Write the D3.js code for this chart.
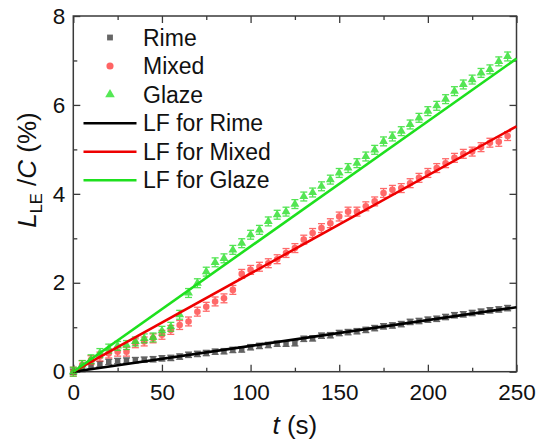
<!DOCTYPE html>
<html>
<head>
<meta charset="utf-8">
<script src="https://cdn.jsdelivr.net/npm/d3@7"></script>
<style>
  html, body { margin: 0; padding: 0; background: #fff; }
  svg { display: block; font-family: "Liberation Sans", Arial, sans-serif; }
</style>
</head>
<body>
<svg id="chart" width="537" height="443"></svg>
<script>
// Measurement times (s)
const times = [0, 5, 10, 15, 20, 25, 30, 35, 40, 45, 50, 55, 60, 65, 70, 75, 80, 85, 90, 95,
  100, 105, 110, 115, 120, 125, 130, 135, 140, 145, 150, 155, 160, 165, 170, 175, 180, 185, 190, 195,
  200, 205, 210, 215, 220, 225, 230, 235, 240, 245];

// L_LE / C (%) for each ice type
const rime = [0.00, 0.06, 0.13, 0.17, 0.22, 0.24, 0.25, 0.26, 0.27, 0.28, 0.30, 0.31, 0.34, 0.38, 0.40, 0.42, 0.45, 0.46, 0.49, 0.50,
  0.55, 0.58, 0.60, 0.63, 0.63, 0.64, 0.74, 0.75, 0.81, 0.82, 0.87, 0.89, 0.91, 0.94, 0.98, 1.02, 1.04, 1.07, 1.12, 1.14,
  1.17, 1.19, 1.23, 1.27, 1.29, 1.32, 1.35, 1.38, 1.40, 1.43];
const mixed = [0.00, 0.15, 0.26, 0.34, 0.41, 0.45, 0.45, 0.64, 0.68, 0.75, 0.83, 0.94, 1.05, 1.13, 1.35, 1.46, 1.58, 1.65, 1.84, 2.20,
  2.29, 2.36, 2.44, 2.53, 2.67, 2.78, 2.97, 3.12, 3.23, 3.34, 3.49, 3.60, 3.60, 3.72, 3.83, 4.02, 4.09, 4.13, 4.24, 4.36,
  4.47, 4.58, 4.69, 4.81, 4.90, 4.95, 5.05, 5.15, 5.17, 5.30];
const glaze = [0.00, 0.15, 0.28, 0.42, 0.52, 0.58, 0.60, 0.68, 0.75, 0.77, 0.92, 1.01, 1.28, 1.77, 1.99, 2.25, 2.46, 2.55, 2.74, 2.89,
  3.08, 3.19, 3.38, 3.53, 3.60, 3.77, 3.94, 4.03, 4.17, 4.32, 4.47, 4.58, 4.69, 4.84, 4.99, 5.18, 5.29, 5.41, 5.56, 5.71,
  5.86, 5.98, 6.13, 6.31, 6.46, 6.57, 6.72, 6.80, 6.98, 7.09];

// Error bar half-heights (%)
const rimeErr = 0.06;
const mixedErr = 0.10;
const glazeErr = 0.10;

// Linear fits, evaluated at the ends of the time range
const fitTimes = [0, 250];
const rimeFit = [0, 1.45];
const mixedFit = [0, 5.52];
const glazeFit = [0, 7.04];

// Axis ticks
const xTicks = [0, 50, 100, 150, 200, 250];
const xMinor = [25, 75, 125, 175, 225];
const yTicks = [0, 2, 4, 6, 8];
const yMinor = [1, 3, 5, 7];

const legendLabels = ["Rime", "Mixed", "Glaze", "LF for Rime", "LF for Mixed", "LF for Glaze"];

const svg = d3.select("#chart");
const m = { left: 73.3, right: 516.5, top: 16, bottom: 371.7 };

const x = d3.scaleLinear().domain([0, 250]).range([m.left, m.right]);
const y = d3.scaleLinear().domain([0, 8]).range([m.bottom, m.top]);

const axisColor = "#3a3a3a";
const tickFont = 22.5;

// Frame and ticks (inward on all four sides)
function styleAxis(g) {
  g.select(".domain").remove();
  g.selectAll(".tick line").attr("stroke", axisColor).attr("stroke-width", 1.3);
  g.selectAll("text").attr("fill", "#111").attr("font-size", tickFont)
    .attr("font-family", "'Liberation Sans', Arial, sans-serif");
}

svg.append("g").attr("transform", `translate(0,${m.bottom})`)
  .call(d3.axisBottom(x).tickValues(xTicks).tickFormat(d3.format("d")).tickSizeInner(-7).tickSizeOuter(0).tickPadding(12.5))
  .call(styleAxis);
svg.append("g").attr("transform", `translate(0,${m.bottom})`)
  .call(d3.axisBottom(x).tickValues(xMinor).tickFormat("").tickSizeInner(-4).tickSizeOuter(0))
  .call(styleAxis);
svg.append("g").attr("transform", `translate(0,${m.top})`)
  .call(d3.axisTop(x).tickValues(xTicks).tickFormat("").tickSizeInner(-7).tickSizeOuter(0))
  .call(styleAxis);
svg.append("g").attr("transform", `translate(0,${m.top})`)
  .call(d3.axisTop(x).tickValues(xMinor).tickFormat("").tickSizeInner(-4).tickSizeOuter(0))
  .call(styleAxis);

svg.append("g").attr("transform", `translate(${m.left},0)`)
  .call(d3.axisLeft(y).tickValues(yTicks).tickFormat(d3.format("d")).tickSizeInner(-7).tickSizeOuter(0).tickPadding(8))
  .call(styleAxis);
svg.append("g").attr("transform", `translate(${m.left},0)`)
  .call(d3.axisLeft(y).tickValues(yMinor).tickFormat("").tickSizeInner(-4).tickSizeOuter(0))
  .call(styleAxis);
svg.append("g").attr("transform", `translate(${m.right},0)`)
  .call(d3.axisRight(y).tickValues(yTicks).tickFormat("").tickSizeInner(-7).tickSizeOuter(0))
  .call(styleAxis);
svg.append("g").attr("transform", `translate(${m.right},0)`)
  .call(d3.axisRight(y).tickValues(yMinor).tickFormat("").tickSizeInner(-4).tickSizeOuter(0))
  .call(styleAxis);

svg.append("rect")
  .attr("x", m.left).attr("y", m.top)
  .attr("width", m.right - m.left).attr("height", m.bottom - m.top)
  .attr("fill", "none").attr("stroke", axisColor).attr("stroke-width", 1.5);

// Data series with error bars
const series = [
  { values: rime, err: rimeErr, color: "#3c3c3c", opacity: 0.8, symbol: d3.symbolSquare, size: 30 },
  { values: mixed, err: mixedErr, color: "#ff3030", opacity: 0.72, symbol: d3.symbolCircle, size: 34 },
  { values: glaze, err: glazeErr, color: "#2ee02e", opacity: 0.82, symbol: d3.symbolTriangle, size: 34 }
];

const plot = svg.append("g");
series.forEach(s => {
  const g = plot.append("g").attr("opacity", s.opacity);
  const pts = times.map((t, i) => ({ t, v: s.values[i] }));
  const eb = g.selectAll("g.eb").data(pts).join("g").attr("class", "eb")
    .attr("stroke", s.color).attr("stroke-width", 1.3);
  eb.append("line")
    .attr("x1", d => x(d.t)).attr("x2", d => x(d.t))
    .attr("y1", d => y(d.v - s.err)).attr("y2", d => y(d.v + s.err));
  eb.append("line")
    .attr("x1", d => x(d.t) - 3.5).attr("x2", d => x(d.t) + 3.5)
    .attr("y1", d => y(d.v + s.err)).attr("y2", d => y(d.v + s.err));
  eb.append("line")
    .attr("x1", d => x(d.t) - 3.5).attr("x2", d => x(d.t) + 3.5)
    .attr("y1", d => y(d.v - s.err)).attr("y2", d => y(d.v - s.err));
  g.selectAll("path.pt").data(pts).join("path").attr("class", "pt")
    .attr("d", d3.symbol().type(s.symbol).size(s.size))
    .attr("transform", d => `translate(${x(d.t)},${y(d.v)})`)
    .attr("fill", s.color);
});

// Fit lines
const fits = [
  { values: rimeFit, color: "#000000" },
  { values: mixedFit, color: "#ee0000" },
  { values: glazeFit, color: "#1ee01e" }
];
const line = d3.line().x(d => x(d[0])).y(d => y(d[1]));
fits.forEach(f => {
  plot.append("path")
    .attr("d", line(fitTimes.map((t, i) => [t, f.values[i]])))
    .attr("fill", "none").attr("stroke", f.color).attr("stroke-width", 2.6);
});

// Legend
const legend = svg.append("g").attr("font-size", 23).attr("fill", "#111");
const legSym = [
  { symbol: d3.symbolSquare, size: 34, color: "#666" },
  { symbol: d3.symbolCircle, size: 40, color: "#ff6464" },
  { symbol: d3.symbolTriangle, size: 40, color: "#55e855" }
];
const legBase = [45.5, 74, 102.5, 131, 159.5, 188];
legendLabels.forEach((lab, i) => {
  if (i < 3) {
    legend.append("path")
      .attr("d", d3.symbol().type(legSym[i].symbol).size(legSym[i].size)())
      .attr("transform", `translate(110,${legBase[i] - 8})`)
      .attr("fill", legSym[i].color);
  } else {
    legend.append("line")
      .attr("x1", 83.5).attr("x2", 136.5)
      .attr("y1", legBase[i] - 7.8).attr("y2", legBase[i] - 7.8)
      .attr("stroke", fits[i - 3].color).attr("stroke-width", 2.4);
  }
  legend.append("text").attr("x", 143).attr("y", legBase[i]).text(lab);
});

// Axis titles
svg.append("text")
  .attr("x", (m.left + m.right) / 2).attr("y", 434)
  .attr("text-anchor", "middle").attr("font-size", 26).attr("fill", "#111")
  .call(t => {
    t.append("tspan").attr("font-style", "italic").text("t");
    t.append("tspan").text(" (s)");
  });

svg.append("text")
  .attr("transform", "translate(36,170) rotate(-90)")
  .attr("text-anchor", "middle").attr("font-size", 26).attr("fill", "#111")
  .call(t => {
    t.append("tspan").attr("font-style", "italic").text("L");
    t.append("tspan").attr("font-size", 16.5).attr("dy", 6).text("LE");
    t.append("tspan").attr("dy", -6).text(" /");
    t.append("tspan").attr("font-style", "italic").text("C");
    t.append("tspan").text(" (%)");
  });
</script>
</body>
</html>
